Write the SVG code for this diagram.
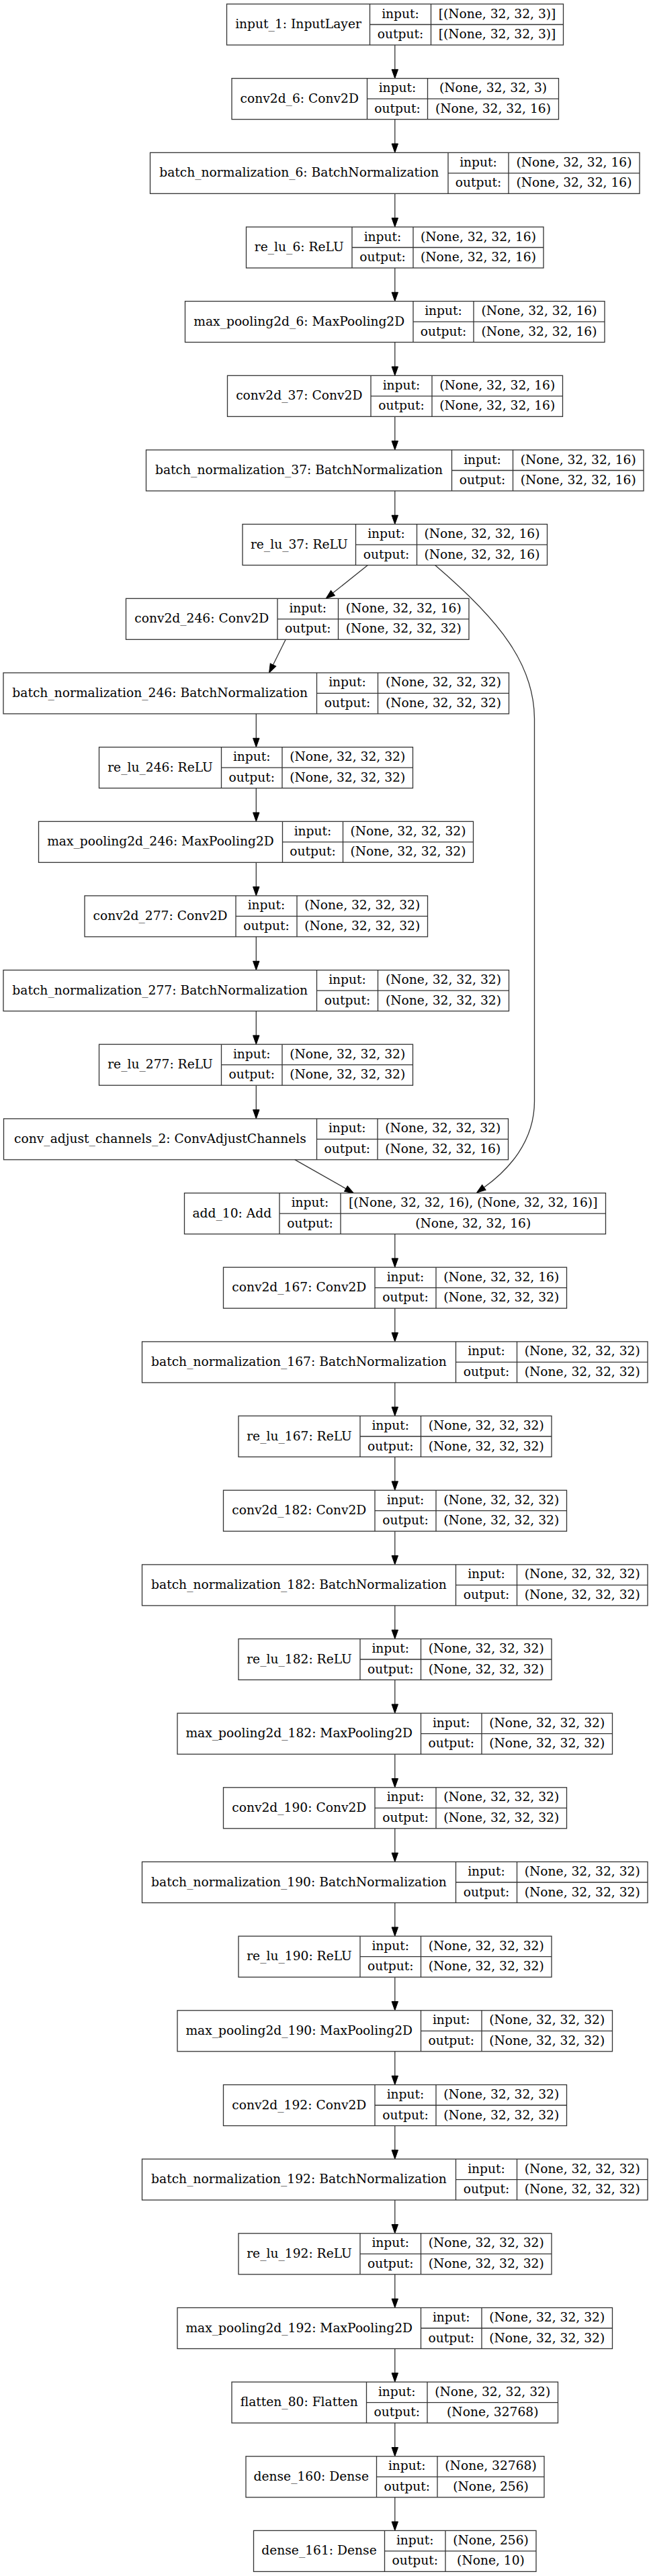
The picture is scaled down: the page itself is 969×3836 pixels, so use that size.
<svg xmlns="http://www.w3.org/2000/svg" width="969" height="3836" viewBox="0 0 969 3836">
<defs>
<style>
text{font-family:"DejaVu Serif","Liberation Serif",serif;font-size:18.67px;fill:#000;text-anchor:middle}
.b{fill:none;stroke:#333;stroke-width:1.3}
.r{fill:#fff;stroke:#333;stroke-width:1.3}
.e{fill:none;stroke:#333;stroke-width:1.3}
</style>
<marker id="ah" markerUnits="userSpaceOnUse" markerWidth="13.3" markerHeight="9.4" viewBox="0 0 13.3 9.4" refX="0" refY="4.7" orient="auto" overflow="visible"><path d="M0,0 L13.3,4.7 L0,9.4 Z" fill="#000" stroke="#000" stroke-width="1"/></marker>
</defs>
<rect width="969" height="3836" fill="#fff"/>
<g id="connectors">
<path class="e" marker-end="url(#ah)" d="M587.8,67V103.4"/>
<path class="e" marker-end="url(#ah)" d="M587.8,177.7V214"/>
<path class="e" marker-end="url(#ah)" d="M587.8,288.3V324.7"/>
<path class="e" marker-end="url(#ah)" d="M587.8,399V435.3"/>
<path class="e" marker-end="url(#ah)" d="M587.8,509.6V546"/>
<path class="e" marker-end="url(#ah)" d="M587.8,620.3V656.7"/>
<path class="e" marker-end="url(#ah)" d="M587.8,731V767.3"/>
<path class="e" marker-end="url(#ah)" d="M547.5,841.6L495.5,883.1"/>
<path class="e" marker-end="url(#ah)" d="M425.2,952.3L406.5,990"/>
<path class="e" marker-end="url(#ah)" d="M381.3,1062.9V1099.3"/>
<path class="e" marker-end="url(#ah)" d="M381.3,1173.6V1210"/>
<path class="e" marker-end="url(#ah)" d="M381.3,1284.3V1320.6"/>
<path class="e" marker-end="url(#ah)" d="M381.3,1394.9V1431.3"/>
<path class="e" marker-end="url(#ah)" d="M381.3,1505.6V1541.9"/>
<path class="e" marker-end="url(#ah)" d="M381.3,1616.2V1652.6"/>
<path class="e" marker-end="url(#ah)" d="M438.8,1726.9L514.9,1770.1"/>
<path class="e" marker-end="url(#ah)" d="M647.5,841.6C745,925 795,990 795.5,1070L795.5,1640C795.5,1700 757,1742 720.4,1768.3"/>
<path class="e" marker-end="url(#ah)" d="M587.8,1837.6V1873.9"/>
<path class="e" marker-end="url(#ah)" d="M587.8,1948.2V1984.6"/>
<path class="e" marker-end="url(#ah)" d="M587.8,2058.9V2095.2"/>
<path class="e" marker-end="url(#ah)" d="M587.8,2169.5V2205.9"/>
<path class="e" marker-end="url(#ah)" d="M587.8,2280.2V2316.6"/>
<path class="e" marker-end="url(#ah)" d="M587.8,2390.9V2427.2"/>
<path class="e" marker-end="url(#ah)" d="M587.8,2501.5V2537.9"/>
<path class="e" marker-end="url(#ah)" d="M587.8,2612.2V2648.5"/>
<path class="e" marker-end="url(#ah)" d="M587.8,2722.8V2759.2"/>
<path class="e" marker-end="url(#ah)" d="M587.8,2833.5V2869.9"/>
<path class="e" marker-end="url(#ah)" d="M587.8,2944.2V2980.5"/>
<path class="e" marker-end="url(#ah)" d="M587.8,3054.8V3091.2"/>
<path class="e" marker-end="url(#ah)" d="M587.8,3165.5V3201.8"/>
<path class="e" marker-end="url(#ah)" d="M587.8,3276.1V3312.5"/>
<path class="e" marker-end="url(#ah)" d="M587.8,3386.8V3423.2"/>
<path class="e" marker-end="url(#ah)" d="M587.8,3497.5V3533.8"/>
<path class="e" marker-end="url(#ah)" d="M587.8,3608.1V3644.5"/>
<path class="e" marker-end="url(#ah)" d="M587.8,3718.8V3755.1"/>
</g>
<g id="input_1" transform="translate(0,6)">
<rect class="r" x="337.5" y="0" width="501" height="61"/>
<path class="b" d="M550.5,0V61M641.5,0V61M550.5,30.5H838.5"/>
<text x="444" y="36">input_1: InputLayer</text>
<text x="596" y="20.5">input:</text><text x="596" y="51">output:</text>
<text x="740" y="20.5">[(None, 32, 32, 3)]</text><text x="740" y="51">[(None, 32, 32, 3)]</text>
</g>
<g id="conv2d_6" transform="translate(0,116.7)">
<rect class="r" x="345" y="0" width="486.5" height="61"/>
<path class="b" d="M546.5,0V61M636.5,0V61M546.5,30.5H831.5"/>
<text x="445.75" y="36">conv2d_6: Conv2D</text>
<text x="591.5" y="20.5">input:</text><text x="591.5" y="51">output:</text>
<text x="734" y="20.5">(None, 32, 32, 3)</text><text x="734" y="51">(None, 32, 32, 16)</text>
</g>
<g id="batch_normalization_6" transform="translate(0,227.3)">
<rect class="r" x="223.5" y="0" width="728.5" height="61"/>
<path class="b" d="M667,0V61M757,0V61M667,30.5H952"/>
<text x="445.25" y="36">batch_normalization_6: BatchNormalization</text>
<text x="712" y="20.5">input:</text><text x="712" y="51">output:</text>
<text x="854.5" y="20.5">(None, 32, 32, 16)</text><text x="854.5" y="51">(None, 32, 32, 16)</text>
</g>
<g id="re_lu_6" transform="translate(0,338)">
<rect class="r" x="366.5" y="0" width="442.5" height="61"/>
<path class="b" d="M524,0V61M615,0V61M524,30.5H809"/>
<text x="445.25" y="36">re_lu_6: ReLU</text>
<text x="569.5" y="20.5">input:</text><text x="569.5" y="51">output:</text>
<text x="712" y="20.5">(None, 32, 32, 16)</text><text x="712" y="51">(None, 32, 32, 16)</text>
</g>
<g id="max_pooling2d_6" transform="translate(0,448.6)">
<rect class="r" x="275.5" y="0" width="624.5" height="61"/>
<path class="b" d="M615,0V61M705,0V61M615,30.5H900"/>
<text x="445.25" y="36">max_pooling2d_6: MaxPooling2D</text>
<text x="660" y="20.5">input:</text><text x="660" y="51">output:</text>
<text x="802.5" y="20.5">(None, 32, 32, 16)</text><text x="802.5" y="51">(None, 32, 32, 16)</text>
</g>
<g id="conv2d_37" transform="translate(0,559.3)">
<rect class="r" x="338.5" y="0" width="499" height="61"/>
<path class="b" d="M552,0V61M643,0V61M552,30.5H837.5"/>
<text x="445.25" y="36">conv2d_37: Conv2D</text>
<text x="597.5" y="20.5">input:</text><text x="597.5" y="51">output:</text>
<text x="740.25" y="20.5">(None, 32, 32, 16)</text><text x="740.25" y="51">(None, 32, 32, 16)</text>
</g>
<g id="batch_normalization_37" transform="translate(0,670)">
<rect class="r" x="217.5" y="0" width="740.5" height="61"/>
<path class="b" d="M672.5,0V61M763.5,0V61M672.5,30.5H958"/>
<text x="445" y="36">batch_normalization_37: BatchNormalization</text>
<text x="718" y="20.5">input:</text><text x="718" y="51">output:</text>
<text x="860.75" y="20.5">(None, 32, 32, 16)</text><text x="860.75" y="51">(None, 32, 32, 16)</text>
</g>
<g id="re_lu_37" transform="translate(0,780.6)">
<rect class="r" x="361" y="0" width="453.5" height="61"/>
<path class="b" d="M529.5,0V61M620.5,0V61M529.5,30.5H814.5"/>
<text x="445.25" y="36">re_lu_37: ReLU</text>
<text x="575" y="20.5">input:</text><text x="575" y="51">output:</text>
<text x="717.5" y="20.5">(None, 32, 32, 16)</text><text x="717.5" y="51">(None, 32, 32, 16)</text>
</g>
<g id="conv2d_246" transform="translate(0,891.3)">
<rect class="r" x="187.5" y="0" width="510.5" height="61"/>
<path class="b" d="M413,0V61M503.5,0V61M413,30.5H698"/>
<text x="300.25" y="36">conv2d_246: Conv2D</text>
<text x="458.25" y="20.5">input:</text><text x="458.25" y="51">output:</text>
<text x="600.75" y="20.5">(None, 32, 32, 16)</text><text x="600.75" y="51">(None, 32, 32, 32)</text>
</g>
<g id="batch_normalization_246" transform="translate(0,1001.9)">
<rect class="r" x="5" y="0" width="752.5" height="61"/>
<path class="b" d="M471.5,0V61M562.5,0V61M471.5,30.5H757.5"/>
<text x="238.25" y="36">batch_normalization_246: BatchNormalization</text>
<text x="517" y="20.5">input:</text><text x="517" y="51">output:</text>
<text x="660" y="20.5">(None, 32, 32, 32)</text><text x="660" y="51">(None, 32, 32, 32)</text>
</g>
<g id="re_lu_246" transform="translate(0,1112.6)">
<rect class="r" x="147.5" y="0" width="467" height="61"/>
<path class="b" d="M329.5,0V61M420,0V61M329.5,30.5H614.5"/>
<text x="238.5" y="36">re_lu_246: ReLU</text>
<text x="374.75" y="20.5">input:</text><text x="374.75" y="51">output:</text>
<text x="517.25" y="20.5">(None, 32, 32, 32)</text><text x="517.25" y="51">(None, 32, 32, 32)</text>
</g>
<g id="max_pooling2d_246" transform="translate(0,1223.3)">
<rect class="r" x="57.5" y="0" width="647" height="61"/>
<path class="b" d="M420.5,0V61M510.5,0V61M420.5,30.5H704.5"/>
<text x="239" y="36">max_pooling2d_246: MaxPooling2D</text>
<text x="465.5" y="20.5">input:</text><text x="465.5" y="51">output:</text>
<text x="607.5" y="20.5">(None, 32, 32, 32)</text><text x="607.5" y="51">(None, 32, 32, 32)</text>
</g>
<g id="conv2d_277" transform="translate(0,1333.9)">
<rect class="r" x="126" y="0" width="510.5" height="61"/>
<path class="b" d="M351,0V61M442,0V61M351,30.5H636.5"/>
<text x="238.5" y="36">conv2d_277: Conv2D</text>
<text x="396.5" y="20.5">input:</text><text x="396.5" y="51">output:</text>
<text x="539.25" y="20.5">(None, 32, 32, 32)</text><text x="539.25" y="51">(None, 32, 32, 32)</text>
</g>
<g id="batch_normalization_277" transform="translate(0,1444.6)">
<rect class="r" x="5" y="0" width="752.5" height="61"/>
<path class="b" d="M471.5,0V61M562.5,0V61M471.5,30.5H757.5"/>
<text x="238.25" y="36">batch_normalization_277: BatchNormalization</text>
<text x="517" y="20.5">input:</text><text x="517" y="51">output:</text>
<text x="660" y="20.5">(None, 32, 32, 32)</text><text x="660" y="51">(None, 32, 32, 32)</text>
</g>
<g id="re_lu_277" transform="translate(0,1555.2)">
<rect class="r" x="147.5" y="0" width="467" height="61"/>
<path class="b" d="M329.5,0V61M420,0V61M329.5,30.5H614.5"/>
<text x="238.5" y="36">re_lu_277: ReLU</text>
<text x="374.75" y="20.5">input:</text><text x="374.75" y="51">output:</text>
<text x="517.25" y="20.5">(None, 32, 32, 32)</text><text x="517.25" y="51">(None, 32, 32, 32)</text>
</g>
<g id="conv_adjust_channels_2" transform="translate(0,1665.9)">
<rect class="r" x="5.5" y="0" width="751" height="61"/>
<path class="b" d="M471.5,0V61M562,0V61M471.5,30.5H756.5"/>
<text x="238.5" y="36">conv_adjust_channels_2: ConvAdjustChannels</text>
<text x="516.75" y="20.5">input:</text><text x="516.75" y="51">output:</text>
<text x="659.25" y="20.5">(None, 32, 32, 32)</text><text x="659.25" y="51">(None, 32, 32, 16)</text>
</g>
<g id="add_10" transform="translate(0,1776.6)">
<rect class="r" x="274.5" y="0" width="627" height="61"/>
<path class="b" d="M416,0V61M507,0V61M416,30.5H901.5"/>
<text x="345.25" y="36">add_10: Add</text>
<text x="461.5" y="20.5">input:</text><text x="461.5" y="51">output:</text>
<text x="704.25" y="20.5">[(None, 32, 32, 16), (None, 32, 32, 16)]</text><text x="704.25" y="51">(None, 32, 32, 16)</text>
</g>
<g id="conv2d_167" transform="translate(0,1887.2)">
<rect class="r" x="332.5" y="0" width="511" height="61"/>
<path class="b" d="M558,0V61M649,0V61M558,30.5H843.5"/>
<text x="445.25" y="36">conv2d_167: Conv2D</text>
<text x="603.5" y="20.5">input:</text><text x="603.5" y="51">output:</text>
<text x="746.25" y="20.5">(None, 32, 32, 16)</text><text x="746.25" y="51">(None, 32, 32, 32)</text>
</g>
<g id="batch_normalization_167" transform="translate(0,1997.9)">
<rect class="r" x="211.5" y="0" width="752.5" height="61"/>
<path class="b" d="M678.5,0V61M769.5,0V61M678.5,30.5H964"/>
<text x="445" y="36">batch_normalization_167: BatchNormalization</text>
<text x="724" y="20.5">input:</text><text x="724" y="51">output:</text>
<text x="866.75" y="20.5">(None, 32, 32, 32)</text><text x="866.75" y="51">(None, 32, 32, 32)</text>
</g>
<g id="re_lu_167" transform="translate(0,2108.5)">
<rect class="r" x="355" y="0" width="466" height="61"/>
<path class="b" d="M536,0V61M626.5,0V61M536,30.5H821"/>
<text x="445.5" y="36">re_lu_167: ReLU</text>
<text x="581.25" y="20.5">input:</text><text x="581.25" y="51">output:</text>
<text x="723.75" y="20.5">(None, 32, 32, 32)</text><text x="723.75" y="51">(None, 32, 32, 32)</text>
</g>
<g id="conv2d_182" transform="translate(0,2219.2)">
<rect class="r" x="332.5" y="0" width="511" height="61"/>
<path class="b" d="M558,0V61M649,0V61M558,30.5H843.5"/>
<text x="445.25" y="36">conv2d_182: Conv2D</text>
<text x="603.5" y="20.5">input:</text><text x="603.5" y="51">output:</text>
<text x="746.25" y="20.5">(None, 32, 32, 32)</text><text x="746.25" y="51">(None, 32, 32, 32)</text>
</g>
<g id="batch_normalization_182" transform="translate(0,2329.9)">
<rect class="r" x="211.5" y="0" width="752.5" height="61"/>
<path class="b" d="M678.5,0V61M769.5,0V61M678.5,30.5H964"/>
<text x="445" y="36">batch_normalization_182: BatchNormalization</text>
<text x="724" y="20.5">input:</text><text x="724" y="51">output:</text>
<text x="866.75" y="20.5">(None, 32, 32, 32)</text><text x="866.75" y="51">(None, 32, 32, 32)</text>
</g>
<g id="re_lu_182" transform="translate(0,2440.5)">
<rect class="r" x="355" y="0" width="466" height="61"/>
<path class="b" d="M536,0V61M626.5,0V61M536,30.5H821"/>
<text x="445.5" y="36">re_lu_182: ReLU</text>
<text x="581.25" y="20.5">input:</text><text x="581.25" y="51">output:</text>
<text x="723.75" y="20.5">(None, 32, 32, 32)</text><text x="723.75" y="51">(None, 32, 32, 32)</text>
</g>
<g id="max_pooling2d_182" transform="translate(0,2551.2)">
<rect class="r" x="264" y="0" width="647.5" height="61"/>
<path class="b" d="M626.5,0V61M717,0V61M626.5,30.5H911.5"/>
<text x="445.25" y="36">max_pooling2d_182: MaxPooling2D</text>
<text x="671.75" y="20.5">input:</text><text x="671.75" y="51">output:</text>
<text x="814.25" y="20.5">(None, 32, 32, 32)</text><text x="814.25" y="51">(None, 32, 32, 32)</text>
</g>
<g id="conv2d_190" transform="translate(0,2661.8)">
<rect class="r" x="332.5" y="0" width="511" height="61"/>
<path class="b" d="M558,0V61M649,0V61M558,30.5H843.5"/>
<text x="445.25" y="36">conv2d_190: Conv2D</text>
<text x="603.5" y="20.5">input:</text><text x="603.5" y="51">output:</text>
<text x="746.25" y="20.5">(None, 32, 32, 32)</text><text x="746.25" y="51">(None, 32, 32, 32)</text>
</g>
<g id="batch_normalization_190" transform="translate(0,2772.5)">
<rect class="r" x="211.5" y="0" width="752.5" height="61"/>
<path class="b" d="M678.5,0V61M769.5,0V61M678.5,30.5H964"/>
<text x="445" y="36">batch_normalization_190: BatchNormalization</text>
<text x="724" y="20.5">input:</text><text x="724" y="51">output:</text>
<text x="866.75" y="20.5">(None, 32, 32, 32)</text><text x="866.75" y="51">(None, 32, 32, 32)</text>
</g>
<g id="re_lu_190" transform="translate(0,2883.2)">
<rect class="r" x="355" y="0" width="466" height="61"/>
<path class="b" d="M536,0V61M626.5,0V61M536,30.5H821"/>
<text x="445.5" y="36">re_lu_190: ReLU</text>
<text x="581.25" y="20.5">input:</text><text x="581.25" y="51">output:</text>
<text x="723.75" y="20.5">(None, 32, 32, 32)</text><text x="723.75" y="51">(None, 32, 32, 32)</text>
</g>
<g id="max_pooling2d_190" transform="translate(0,2993.8)">
<rect class="r" x="264" y="0" width="647.5" height="61"/>
<path class="b" d="M626.5,0V61M717,0V61M626.5,30.5H911.5"/>
<text x="445.25" y="36">max_pooling2d_190: MaxPooling2D</text>
<text x="671.75" y="20.5">input:</text><text x="671.75" y="51">output:</text>
<text x="814.25" y="20.5">(None, 32, 32, 32)</text><text x="814.25" y="51">(None, 32, 32, 32)</text>
</g>
<g id="conv2d_192" transform="translate(0,3104.5)">
<rect class="r" x="332.5" y="0" width="511" height="61"/>
<path class="b" d="M558,0V61M649,0V61M558,30.5H843.5"/>
<text x="445.25" y="36">conv2d_192: Conv2D</text>
<text x="603.5" y="20.5">input:</text><text x="603.5" y="51">output:</text>
<text x="746.25" y="20.5">(None, 32, 32, 32)</text><text x="746.25" y="51">(None, 32, 32, 32)</text>
</g>
<g id="batch_normalization_192" transform="translate(0,3215.1)">
<rect class="r" x="211.5" y="0" width="752.5" height="61"/>
<path class="b" d="M678.5,0V61M769.5,0V61M678.5,30.5H964"/>
<text x="445" y="36">batch_normalization_192: BatchNormalization</text>
<text x="724" y="20.5">input:</text><text x="724" y="51">output:</text>
<text x="866.75" y="20.5">(None, 32, 32, 32)</text><text x="866.75" y="51">(None, 32, 32, 32)</text>
</g>
<g id="re_lu_192" transform="translate(0,3325.8)">
<rect class="r" x="355" y="0" width="466" height="61"/>
<path class="b" d="M536,0V61M626.5,0V61M536,30.5H821"/>
<text x="445.5" y="36">re_lu_192: ReLU</text>
<text x="581.25" y="20.5">input:</text><text x="581.25" y="51">output:</text>
<text x="723.75" y="20.5">(None, 32, 32, 32)</text><text x="723.75" y="51">(None, 32, 32, 32)</text>
</g>
<g id="max_pooling2d_192" transform="translate(0,3436.5)">
<rect class="r" x="264" y="0" width="647.5" height="61"/>
<path class="b" d="M626.5,0V61M717,0V61M626.5,30.5H911.5"/>
<text x="445.25" y="36">max_pooling2d_192: MaxPooling2D</text>
<text x="671.75" y="20.5">input:</text><text x="671.75" y="51">output:</text>
<text x="814.25" y="20.5">(None, 32, 32, 32)</text><text x="814.25" y="51">(None, 32, 32, 32)</text>
</g>
<g id="flatten_80" transform="translate(0,3547.1)">
<rect class="r" x="345" y="0" width="485.5" height="61"/>
<path class="b" d="M545.5,0V61M636,0V61M545.5,30.5H830.5"/>
<text x="445.25" y="36">flatten_80: Flatten</text>
<text x="590.75" y="20.5">input:</text><text x="590.75" y="51">output:</text>
<text x="733.25" y="20.5">(None, 32, 32, 32)</text><text x="733.25" y="51">(None, 32768)</text>
</g>
<g id="dense_160" transform="translate(0,3657.8)">
<rect class="r" x="366" y="0" width="444" height="61"/>
<path class="b" d="M560.5,0V61M651,0V61M560.5,30.5H810"/>
<text x="463.25" y="36">dense_160: Dense</text>
<text x="605.75" y="20.5">input:</text><text x="605.75" y="51">output:</text>
<text x="730.5" y="20.5">(None, 32768)</text><text x="730.5" y="51">(None, 256)</text>
</g>
<g id="dense_161" transform="translate(0,3768.4)">
<rect class="r" x="377.5" y="0" width="420.5" height="61"/>
<path class="b" d="M572.5,0V61M663,0V61M572.5,30.5H798"/>
<text x="475" y="36">dense_161: Dense</text>
<text x="617.75" y="20.5">input:</text><text x="617.75" y="51">output:</text>
<text x="730.5" y="20.5">(None, 256)</text><text x="730.5" y="51">(None, 10)</text>
</g>
</svg>
